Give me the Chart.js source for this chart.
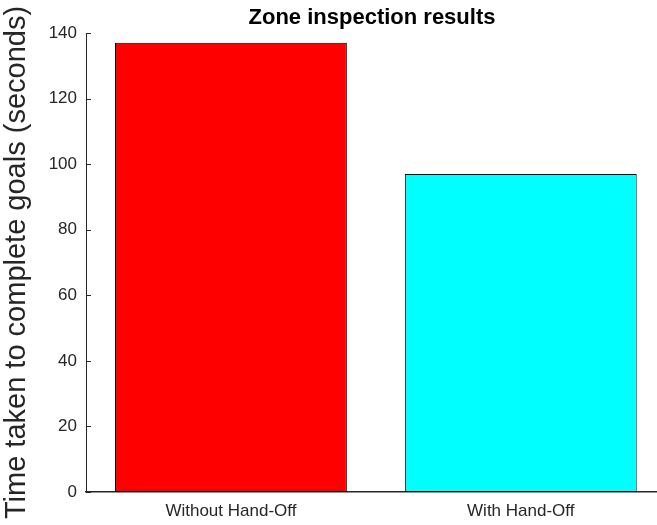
<!DOCTYPE html>
<html>
<head>
<meta charset="utf-8">
<script src="https://cdn.jsdelivr.net/npm/chart.js@4.4.0/dist/chart.umd.min.js"></script>
<style>
  html, body { margin: 0; padding: 0; background: #fff; overflow: hidden; }
  #wrap { width: 657px; height: 525px; }
</style>
</head>
<body>
<div id="wrap"><canvas id="bars" width="657" height="525"></canvas></div>
<script>
const categories = ['Without Hand-Off', 'With Hand-Off'];
const times = [137, 97];
const barColors = ['#ff0000', '#00ffff'];
const yTicks = [0, 20, 40, 60, 80, 100, 120, 140];

const axisColor = '#262626';
const fontFam = '"Liberation Sans", Arial, Helvetica, sans-serif';

// MATLAB style: inward tick marks on the y axis and the title over the plot area
const matlabBits = {
  id: 'matlabBits',
  afterDraw(chart) {
    const ctx = chart.ctx;
    const y = chart.scales.y;
    const area = chart.chartArea;
    ctx.save();
    ctx.strokeStyle = axisColor;
    ctx.lineWidth = 1;
    yTicks.forEach(v => {
      const py = Math.round(y.getPixelForValue(v)) + 0.5;
      ctx.beginPath();
      ctx.moveTo(area.left, py);
      ctx.lineTo(area.left + 5, py);
      ctx.stroke();
    });
    ctx.fillStyle = '#000';
    ctx.font = 'bold 22px ' + fontFam;
    ctx.textAlign = 'center';
    ctx.textBaseline = 'middle';
    ctx.fillText('Zone inspection results', 372, 18);
    ctx.restore();
  }
};

new Chart(document.getElementById('bars'), {
  type: 'bar',
  data: {
    datasets: [{
      data: categories.map((c, i) => ({ x: i + 1, y: times[i] })),
      backgroundColor: barColors,
      borderColor: '#000',
      borderWidth: 1,
      borderSkipped: false,
      barPercentage: 1,
      categoryPercentage: 0.8
    }]
  },
  options: {
    responsive: false,
    animation: false,
    layout: { padding: { top: 33, right: 0, left: 0, bottom: 0 } },
    plugins: { legend: { display: false }, tooltip: { enabled: false } },
    scales: {
      x: {
        type: 'linear',
        offset: false,
        min: 0.5,
        max: 2.47,
        afterBuildTicks: s => { s.ticks = [{ value: 1 }, { value: 2 }]; },
        afterFit: s => { s.height = 33; },
        ticks: {
          callback: v => categories[v - 1],
          color: axisColor,
          font: { family: fontFam, size: 17 },
          padding: 1,
          maxRotation: 0
        },
        grid: { display: false },
        border: { display: true, color: axisColor, width: 1.5 }
      },
      y: {
        min: 0,
        max: 140,
        afterBuildTicks: s => { s.ticks = yTicks.map(v => ({ value: v })); },
        afterFit: s => { s.width = 86; },
        ticks: {
          color: axisColor,
          font: { family: fontFam, size: 17 },
          padding: 9
        },
        grid: { display: false, drawTicks: false },
        border: { display: true, color: axisColor, width: 1 },
        title: {
          display: true,
          text: 'Time taken to complete goals (seconds)',
          color: axisColor,
          font: { family: fontFam, size: 29 },
          padding: { top: 0, bottom: 0 }
        }
      }
    }
  },
  plugins: [matlabBits]
});
</script>
</body>
</html>
